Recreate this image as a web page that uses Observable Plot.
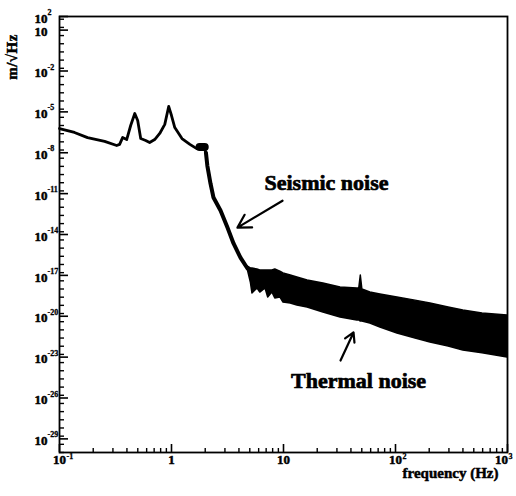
<!DOCTYPE html>
<html><head><meta charset="utf-8">
<script src="https://cdn.jsdelivr.net/npm/d3@7"></script>
<script src="https://cdn.jsdelivr.net/npm/@observablehq/plot@0.6"></script>
<style>body{margin:0;background:#fff}</style>
</head><body><div id="chart"></div>
<script>
// Low-frequency part (pendulum resonances), Hz and m/sqrt(Hz)
const lowFreq = [0.1, 0.136, 0.178, 0.253, 0.324, 0.344, 0.366, 0.398, 0.432, 0.47, 0.499, 0.531, 0.588, 0.638, 0.708, 0.785, 0.871, 0.944, 1.0, 1.07, 1.24, 1.46, 1.68, 1.79, 1.94, 2.03];
const lowAmp  = [6.0e-7, 3.1e-7, 1.3e-7, 6.8e-8, 3.4e-8, 4.1e-8, 1.3e-7, 9.3e-8, 1.0e-6, 7.6e-6, 2.3e-6, 1.1e-7, 7.9e-8, 5.6e-8, 9.3e-8, 2.6e-7, 1.2e-6, 2.5e-5, 5.4e-6, 7.1e-7, 1.1e-7, 4.1e-8, 2.0e-8, 2.9e-8, 2.5e-8, 1.0e-8];
// small blob near 2 Hz
const blobFreq = [1.78, 1.98];
const blobAmp  = [2.6e-8, 2.6e-8];
// Seismic fall-off
const slopeFreq = [2.03, 2.09, 2.23, 2.37, 2.74, 3.16, 3.58, 4.13, 4.77];
const slopeAmp  = [1.0e-8, 1.1e-9, 5.5e-11, 5.2e-12, 5.8e-13, 3.2e-14, 2.2e-15, 2.0e-16, 3.2e-17];
// Thermal-noise band: upper and lower envelope
const bandFreq  = [4.77, 5.11, 5.28, 5.85, 6.2, 6.91, 7.3, 7.95, 8.45, 9.37, 10.0, 11.6, 13.3, 16.4, 22.7, 32.3, 45.6, 47.5, 49, 50.6, 59.6, 73.3, 104, 151, 205, 298, 403, 598, 1000];
const bandUpper = [4.5e-17, 3.2e-17, 3.2e-17, 2.7e-17, 2.3e-17, 2.3e-17, 2.3e-17, 2.3e-17, 2.7e-17, 1.9e-17, 1.4e-17, 9.8e-18, 6.9e-18, 4.2e-18, 2.5e-18, 1.3e-18, 1.1e-18, 1.1e-18, 9.8e-18, 9.2e-19, 5.5e-19, 4.0e-19, 2.4e-19, 1.4e-19, 8.7e-20, 4.4e-20, 2.6e-20, 1.6e-20, 1.15e-20];
const bandLower = [3.2e-17, 3.0e-18, 4.7e-19, 1.1e-18, 5.5e-19, 1.1e-18, 2.4e-19, 5.5e-19, 2.0e-19, 2.4e-19, 1.0e-19, 8.7e-20, 6.2e-20, 4.4e-20, 1.9e-20, 8.1e-21, 4.9e-21, 4.9e-21, 4.1e-21, 4.1e-21, 2.9e-21, 1.5e-21, 5.4e-22, 2.3e-22, 1.2e-22, 6.0e-23, 3.1e-23, 1.9e-23, 9.3e-24];

// Tick labels
const xTickValues = [0.1, 1, 10, 100, 1000];
const xTickBase   = ["10", "1", "10", "10", "10"];
const xTickExp    = ["-1", "", "", "2", "3"];
const yTickValues = [1e2, 1e1, 1e-2, 1e-5, 1e-8, 1e-11, 1e-14, 1e-17, 1e-20, 1e-23, 1e-26, 1e-29];
const yTickBase   = ["10", "10", "10", "10", "10", "10", "10", "10", "10", "10", "10", "10"];
const yTickExp    = ["2", "", "-2", "-5", "-8", "-11", "-14", "-17", "-20", "-23", "-26", "-29"];

// Annotations
const annoText = ["Seismic noise", "Thermal noise"];
const annoFreq = [24.2, 46.8];
const annoAmp  = [6.6e-11, 1.9e-25];
const arrowFromFreq = [9.8, 32.3];
const arrowFromAmp  = [3e-12, 5.6e-24];
const arrowToFreq   = [3.88, 42.2];
const arrowToAmp    = [3.2e-14, 6.5e-22];

const yTitle = "m/\u221AHz";
const xTitle = "frequency (Hz)";

const low = lowFreq.map((f, i) => ({f, a: lowAmp[i]}));
const blob = blobFreq.map((f, i) => ({f, a: blobAmp[i]}));
const slope = slopeFreq.map((f, i) => ({f, a: slopeAmp[i]}));
const band = bandFreq.map((f, i) => ({f, hi: bandUpper[i], lo: bandLower[i]}));
const xt = xTickValues.map((v, i) => ({v, b: xTickBase[i], e: xTickExp[i]}));
const xtInner = xt.slice(0, -1), xtLast = xt.slice(-1);
const yt = yTickValues.map((v, i) => ({v, b: yTickBase[i], e: yTickExp[i]}));
const anno = annoText.map((t, i) => ({t, f: annoFreq[i], a: annoAmp[i]}));
const arrows = arrowFromFreq.map((f, i) => ({f1: f, a1: arrowFromAmp[i], f2: arrowToFreq[i], a2: arrowToAmp[i]}));

const W = 516, H = 496, mL = 59, mR = 9, mT = 16, mB = 44;
const pw = W - mL - mR, ph = H - mT - mB;

const xMinor = [];
for (const d of [0.1, 1, 10, 100]) for (let k = 2; k <= 9; k++) xMinor.push(d * k);
const yMinor = d3.range(-30, 2.01, 0.6).map(e => Math.pow(10, e)).filter(v => v >= 1e-30 && v <= 1e2);

const serif = "'Liberation Serif', 'DejaVu Serif', serif";
const baseStyle = {fontSize: 13, letterSpacing: 0.5, fontWeight: "bold", stroke: "black", strokeWidth: 0.5, fill: "black"};
const expStyle = {fontSize: 8, textAnchor: "start", fontWeight: "bold", stroke: "black", strokeWidth: 0.3, fill: "black"};

const chart = Plot.plot({
  width: W, height: H,
  marginLeft: mL, marginRight: mR, marginTop: mT, marginBottom: mB,
  x: {type: "log", domain: [0.1, 1000], axis: null},
  y: {type: "log", domain: [1e-30, 1e2], axis: null},
  style: {fontFamily: serif, fontWeight: "bold", background: "white", color: "black"},
  marks: [
    // ticks
    Plot.tickX(xMinor, {x: d => d, insetTop: ph - 4, stroke: "black", strokeWidth: 1.4}),
    Plot.tickX(xTickValues, {x: d => d, insetTop: ph - 8, stroke: "black", strokeWidth: 1.6}),
    Plot.tickY(yMinor, {y: d => d, insetRight: pw - 5, stroke: "black", strokeWidth: 1.4}),
    Plot.tickY(yTickValues, {y: d => d, insetRight: pw - 9, stroke: "black", strokeWidth: 1.6}),
    // data
    Plot.areaY(band, {x: "f", y1: "lo", y2: "hi", fill: "black", stroke: "black", strokeWidth: 1.5, curve: "linear"}),
    Plot.line(low, {x: "f", y: "a", stroke: "black", strokeWidth: 2.8}),
    Plot.line(blob, {x: "f", y: "a", stroke: "black", strokeWidth: 8}),
    Plot.line(slope, {x: "f", y: "a", stroke: "black", strokeWidth: 4}),
    // x tick labels
    Plot.text(xtInner, {x: "v", frameAnchor: "bottom", dy: 11, text: "b", ...baseStyle}),
    Plot.text(xtInner, {x: "v", frameAnchor: "bottom", dx: 7, dy: 6, text: "e", ...expStyle}),
    Plot.text(xtLast, {x: "v", frameAnchor: "bottom", dx: -6, dy: 11, text: "b", ...baseStyle}),
    Plot.text(xtLast, {x: "v", frameAnchor: "bottom", dx: 1, dy: 6, text: "e", ...expStyle}),
    // y tick labels
    Plot.text(yt, {y: "v", frameAnchor: "left", dx: -12, dy: 2, text: "b", textAnchor: "end", ...baseStyle}),
    Plot.text(yt, {y: "v", frameAnchor: "left", dx: -12, dy: -4, text: "e", ...expStyle}),
    // annotations
    Plot.text(anno, {x: "f", y: "a", text: "t", fontSize: 22, fontWeight: "bold", letterSpacing: 2, stroke: "black", strokeWidth: 0.7, fill: "black"}),
    Plot.arrow(arrows, {x1: "f1", y1: "a1", x2: "f2", y2: "a2", stroke: "black", strokeWidth: 2.2, headLength: 10}),
    // x title
    Plot.text([xTitle], {frameAnchor: "bottom-right", dx: -9, dy: 25, text: d => d, textAnchor: "end", fontSize: 15, letterSpacing: 1.5, fontWeight: "bold", stroke: "black", strokeWidth: 0.5, fill: "black"}),
    Plot.frame({stroke: "black", strokeWidth: 1.8})
  ]
});
// y title (rotated), placed precisely
d3.select(chart).append("text")
  .attr("transform", "translate(14,57) rotate(-90)")
  .attr("text-anchor", "middle")
  .attr("dominant-baseline", "middle")
  .attr("font-family", serif)
  .attr("font-weight", "bold")
  .attr("font-size", 15)
  .attr("letter-spacing", 0.5)
  .attr("stroke", "black").attr("stroke-width", 0.5)
  .attr("fill", "black")
  .text(yTitle);
document.getElementById("chart").appendChild(chart);
</script>
</body></html>
